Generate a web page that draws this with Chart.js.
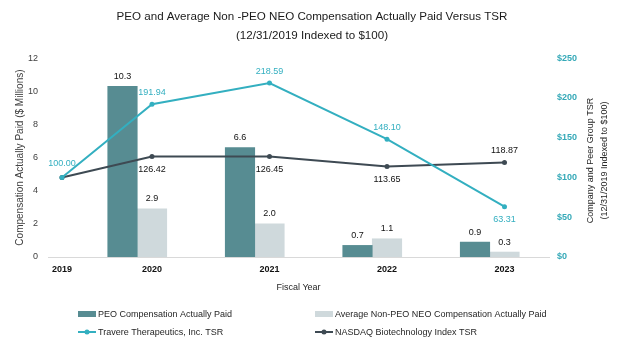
<!DOCTYPE html>
<html>
<head>
<meta charset="utf-8">
<script src="https://cdn.jsdelivr.net/npm/chart.js@4.4.1/dist/chart.umd.min.js"></script>
<style>
  html, body { margin: 0; padding: 0; background: #ffffff; }
  #wrap { width: 624px; height: 347px; position: relative; }
</style>
</head>
<body>
<div id="wrap"><canvas id="chart" width="624" height="347"></canvas></div>
<script>
// ---------- data ----------
const years = [2019, 2020, 2021, 2022, 2023];
const barYears = [2020, 2021, 2022, 2023];
const peoCAP = [10.3, 6.6, 0.7, 0.9];
const neoCAP = [2.9, 2.0, 1.1, 0.3];
const travereTSR = [100.00, 191.94, 218.59, 148.10, 63.31];
const nasdaqTSR = [100.00, 126.42, 126.45, 113.65, 118.87];
const leftTicks = [0, 2, 4, 6, 8, 10, 12];
const rightTicks = [0, 50, 100, 150, 200, 250];
const seriesNames = [
  'PEO Compensation Actually Paid',
  'Average Non-PEO NEO Compensation Actually Paid',
  'Travere Therapeutics, Inc. TSR',
  'NASDAQ Biotechnology Index TSR'
];
const titleLines = ['PEO and Average Non -PEO NEO Compensation Actually Paid Versus TSR', '(12/31/2019 Indexed to $100)'];
const leftAxisTitle = 'Compensation Actually Paid ($ Millions)';
const rightAxisTitle = ['Company and Peer Group TSR', '(12/31/2019 Indexed to $100)'];
const xAxisTitle = 'Fiscal Year';

// label placement per point (style only)
const travereLabelPos = ['top', 'top', 'top', 'top', 'bottom'];
const nasdaqLabelPos = [null, 'bottom', 'bottom', 'bottom', 'top'];

// ---------- colours ----------
const C_PEO = '#578c92';
const C_NEO = '#cfd9dc';
const C_TRV = '#33afc0';
const C_NAS = '#3e4a53';
const C_TEXT = '#262626';
const FONT = "'Liberation Sans', Arial, sans-serif";

// ---------- a year scale whose first (base) year sits closer to the next one ----------
class FiscalYearScale extends Chart.LinearScale {
  warp(v) {
    const base = years[1];
    return v < base ? base - (base - v) * 0.766 : v;
  }
  getPixelForValue(v) {
    if (v === null || v === undefined) return NaN;
    return super.getPixelForValue(this.warp(v));
  }
}
FiscalYearScale.id = 'fiscalYear';
FiscalYearScale.defaults = Chart.LinearScale.defaults;
Chart.register(FiscalYearScale);

// ---------- plugins ----------
const dataLabels = {
  id: 'dataLabels',
  afterDatasetsDraw(chart) {
    const ctx = chart.ctx;
    ctx.save();
    ctx.textAlign = 'center';
    ctx.textBaseline = 'middle';
    ctx.font = '9px ' + FONT;
    chart.data.datasets.forEach((ds, di) => {
      const meta = chart.getDatasetMeta(di);
      meta.data.forEach((el, i) => {
        const v = ds.data[i].y;
        if (ds.type === 'bar') {
          ctx.fillStyle = '#111111';
          ctx.fillText(v.toFixed(1), el.x, el.y - 10);
        } else {
          const pos = ds.labelPos[i];
          if (!pos) return;
          ctx.fillStyle = ds.labelColor;
          const dy = pos === 'top' ? (i === 0 ? -14 : -12) : 13;
          ctx.fillText(v.toFixed(2), el.x, el.y + dy);
        }
      });
    });
    ctx.restore();
  }
};

const extras = {
  id: 'extras',
  afterDraw(chart) {
    const ctx = chart.ctx;
    const ca = chart.chartArea;
    ctx.save();
    // right axis title (reads bottom to top)
    ctx.fillStyle = C_TEXT;
    ctx.font = '9px ' + FONT;
    ctx.textAlign = 'center';
    ctx.textBaseline = 'middle';
    const cy = (ca.top + ca.bottom) / 2 + 3;
    [591, 605].forEach((x, k) => {
      ctx.save();
      ctx.translate(x, cy);
      ctx.rotate(-Math.PI / 2);
      ctx.fillText(rightAxisTitle[k], 0, 0);
      ctx.restore();
    });

    // legend 2 x 2
    const cols = [78, 315];
    const rows = [314, 332];
    ctx.font = '9px ' + FONT;
    ctx.textAlign = 'left';
    chart.data.datasets.forEach((ds, i) => {
      const x = cols[i % 2];
      const y = rows[Math.floor(i / 2)];
      if (ds.type === 'bar') {
        ctx.fillStyle = ds.backgroundColor;
        ctx.fillRect(x, y - 3, 18, 6);
      } else {
        ctx.strokeStyle = ds.borderColor;
        ctx.lineWidth = 2;
        ctx.beginPath();
        ctx.moveTo(x, y);
        ctx.lineTo(x + 18, y);
        ctx.stroke();
        ctx.fillStyle = ds.borderColor;
        ctx.beginPath();
        ctx.arc(x + 9, y, 2.5, 0, Math.PI * 2);
        ctx.fill();
      }
      ctx.fillStyle = C_TEXT;
      ctx.fillText(ds.label, x + 20, y + 0.5);
    });
    ctx.restore();
  }
};

// ---------- datasets ----------
const barData = (vals) => barYears.map((yr, i) => ({ x: yr, y: vals[i] }));
const lineData = (vals) => years.map((yr, i) => ({ x: yr, y: vals[i] }));
const barAxis = (min, max) => ({
  type: 'linear', display: false, min, max, offset: false,
  afterBuildTicks(scale) { scale.ticks = barYears.map(v => ({ value: v })); }
});

const chart = new Chart(document.getElementById('chart'), {
  data: {
    datasets: [
      {
        type: 'bar', label: seriesNames[0], data: barData(peoCAP),
        backgroundColor: C_PEO, xAxisID: 'xp', yAxisID: 'y',
        grouped: false, categoryPercentage: 1, barPercentage: 1,
        maxBarThickness: 29.5, order: 3
      },
      {
        type: 'bar', label: seriesNames[1], data: barData(neoCAP),
        backgroundColor: C_NEO, xAxisID: 'xn', yAxisID: 'y',
        grouped: false, categoryPercentage: 1, barPercentage: 1,
        maxBarThickness: 29.5, order: 4
      },
      {
        type: 'line', label: seriesNames[2], data: lineData(travereTSR),
        borderColor: C_TRV, backgroundColor: C_TRV, borderWidth: 2,
        pointRadius: 2.5, pointBackgroundColor: C_TRV, pointBorderWidth: 0,
        xAxisID: 'x', yAxisID: 'y2', tension: 0, order: 1,
        labelPos: travereLabelPos, labelColor: C_TRV
      },
      {
        type: 'line', label: seriesNames[3], data: lineData(nasdaqTSR),
        borderColor: C_NAS, backgroundColor: C_NAS, borderWidth: 2,
        pointRadius: 2.5, pointBackgroundColor: C_NAS, pointBorderWidth: 0,
        xAxisID: 'x', yAxisID: 'y2', tension: 0, order: 2,
        labelPos: nasdaqLabelPos, labelColor: '#111111'
      }
    ]
  },
  options: {
    responsive: false,
    animation: false,
    devicePixelRatio: 1,
    layout: { padding: { left: 0, right: 0, top: 0, bottom: 50 } },
    plugins: {
      legend: { display: false },
      tooltip: { enabled: false },
      title: {
        display: true,
        text: titleLines,
        color: '#1a1a1a',
        font: { family: FONT, size: 11.6, weight: 'normal', lineHeight: 1.6 },
        padding: { top: 7.7, bottom: 13.3 }
      }
    },
    scales: {
      x: {
        type: 'fiscalYear',
        position: 'bottom',
        min: 2019.1149,
        max: 2023.3787,
        afterBuildTicks(scale) { scale.ticks = years.map(v => ({ value: v })); },
        afterFit(scale) { scale.height = 40; },
        grid: { display: false, drawTicks: false },
        border: { display: true, color: '#d9d9d9', width: 1 },
        ticks: {
          autoSkip: false, maxRotation: 0, padding: 7,
          color: '#111111',
          font: { family: FONT, size: 9, weight: 'bold' },
          callback: (v) => String(v)
        },
        title: {
          display: true, text: xAxisTitle, color: C_TEXT,
          font: { family: FONT, size: 9 },
          padding: { top: 0, bottom: 3.6 }
        }
      },
      xp: barAxis(2019.366, 2023.6298),
      xn: barAxis(2019.1149, 2023.3787),
      y: {
        position: 'left',
        min: 0, max: 12,
        afterBuildTicks(scale) { scale.ticks = leftTicks.map(v => ({ value: v })); },
        afterFit(scale) { scale.width = 48; },
        grid: { display: false, drawTicks: false },
        border: { display: false },
        ticks: {
          padding: 10, color: '#404040',
          font: { family: FONT, size: 9 }
        },
        title: {
          display: true, text: leftAxisTitle, color: '#404040',
          font: { family: FONT, size: 10 },
          padding: { top: 14.5, bottom: 0 }
        }
      },
      y2: {
        position: 'right',
        min: 0, max: 250,
        afterBuildTicks(scale) { scale.ticks = rightTicks.map(v => ({ value: v })); },
        afterFit(scale) { scale.width = 75; },
        grid: { display: false, drawTicks: false },
        border: { display: false },
        ticks: {
          padding: 8, color: '#35a9b8',
          font: { family: FONT, size: 9, weight: 'bold' },
          callback: (v) => '$' + v
        }
      }
    }
  },
  plugins: [dataLabels, extras]
});
</script>
</body>
</html>
